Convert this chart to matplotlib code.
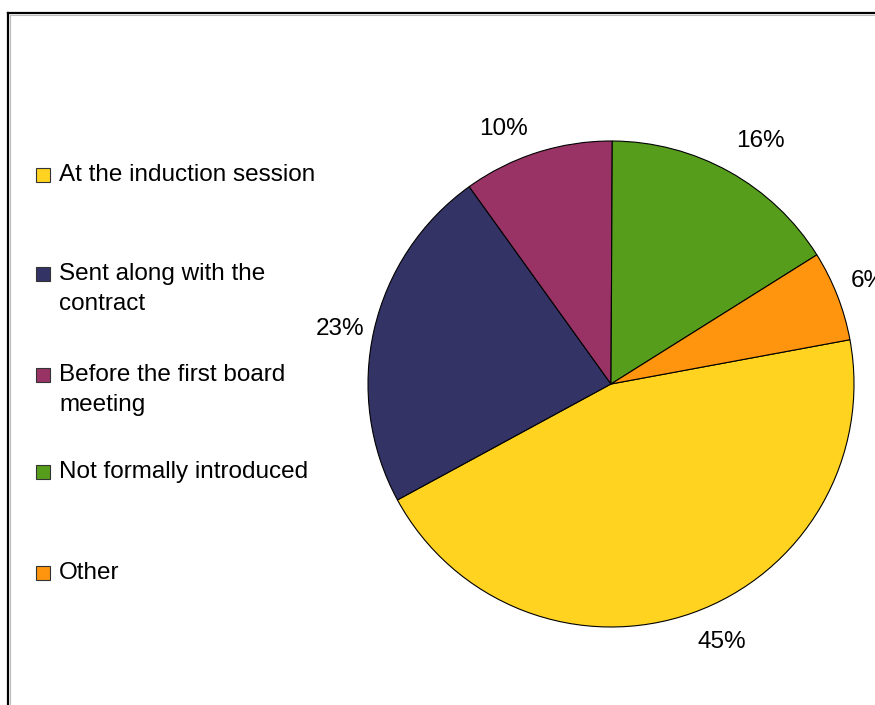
import matplotlib.pyplot as plt
from matplotlib.lines import Line2D
from matplotlib.patches import Rectangle
from matplotlib.transforms import offset_copy

plt.rcParams['font.family'] = ['Liberation Sans', 'DejaVu Sans']

categories = ['At the induction session',
              'Sent along with the\ncontract',
              'Before the first board\nmeeting',
              'Not formally introduced',
              'Other']
shares = [45, 23, 10, 16, 6]
colors = ['#FFD320', '#333366', '#993366', '#579D1C', '#FF950E']

W, H = 875, 705
fig = plt.figure(figsize=(W / 100, H / 100), dpi=100)

# pie centred at (611, 384) px with radius 243 px
cx, cy, r = 611, 384, 243
ax = fig.add_axes([(cx - r) / W, (H - cy - r) / H, 2 * r / W, 2 * r / H])
wedges, texts, autotexts = ax.pie(
    shares, colors=colors, startangle=10.5, counterclock=False,
    radius=1.0, autopct='%d%%', pctdistance=1.15,
    wedgeprops=dict(edgecolor='black', linewidth=0.8),
    textprops=dict(fontsize=17.5, color='black'))
ax.set_xlim(-1, 1)
ax.set_ylim(-1, 1)
ax.set_aspect('equal')

# small pixel nudges for the percentage labels (x right, y up)
nudges = [(18, 5), (1, -7), (-23, -11), (14, -1), (-3, 1)]
for t, (dx, dy) in zip(autotexts, nudges):
    t.set_transform(offset_copy(ax.transData, fig=fig, x=dx, y=dy, units='dots'))
    t.set_clip_on(False)

# legend drawn by hand so the swatch sits on the first line
row_tops = [175, 274, 375, 472, 573]
line_gap = 30
sq = 14
for label, col, ypx in zip(categories, colors, row_tops):
    fig.add_artist(Rectangle((36 / W, (H - ypx - sq / 2) / H), sq / W, sq / H,
                             facecolor=col, edgecolor='#333333', linewidth=0.8,
                             transform=fig.transFigure))
    for i, line in enumerate(label.split('\n')):
        fig.text(59 / W, (H - ypx - i * line_gap) / H, line, fontsize=17.5,
                 va='center', ha='left', color='black')

# chart frame (top and left edges visible)
fig.add_artist(Line2D([8 / W, 1.01], [(H - 13) / H] * 2, color='black', lw=1.6,
                      transform=fig.transFigure))
fig.add_artist(Line2D([8 / W] * 2, [-0.01, (H - 13) / H], color='black', lw=1.6,
                      transform=fig.transFigure))
fig.add_artist(Line2D([10 / W, 1.01], [(H - 15) / H] * 2, color='#bbbbbb', lw=0.8,
                      transform=fig.transFigure))
fig.add_artist(Line2D([10 / W] * 2, [-0.01, (H - 15) / H], color='#bbbbbb', lw=0.8,
                      transform=fig.transFigure))

fig.savefig('out.png', dpi=100)
